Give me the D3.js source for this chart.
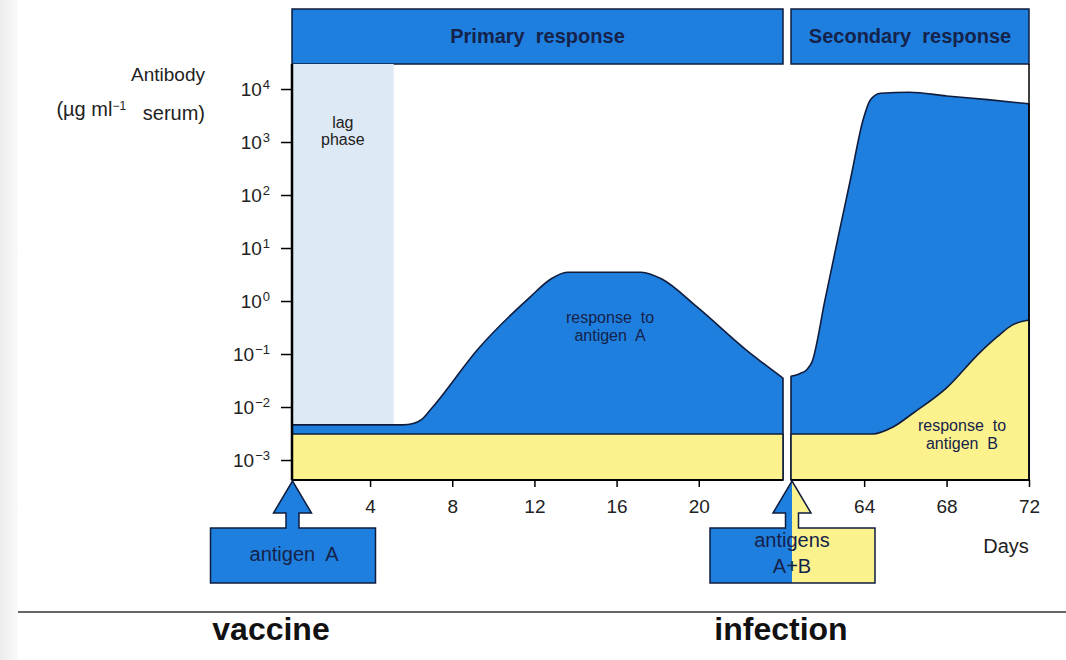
<!DOCTYPE html>
<html><head><meta charset="utf-8">
<script src="https://cdn.jsdelivr.net/npm/d3@7/dist/d3.min.js"></script>
<style>
body{margin:0;background:#fff;}
svg text{font-family:"Liberation Sans", Arial, Helvetica, sans-serif;}
</style></head><body>
<svg id="chart" width="1066" height="660"></svg>
<script>
// ---------- data (antibody, µg/ml serum) ----------
const primaryDays   = [0.2, 5.6, 6.1, 6.5, 7.0, 9.3, 11.8, 12.8, 13.6, 17.2, 18.2, 19.9, 22.3, 24.1];
const primaryA      = [0.0046, 0.0046, 0.0049, 0.0058, 0.0095, 0.13, 1.2, 2.6, 3.5, 3.5, 2.6, 0.78, 0.12, 0.035];
const primaryBDays  = [0.2, 24.1];
const primaryB      = [0.0031, 0.0031];
const secondaryDays = [60.45, 60.9, 61.2, 61.47, 62.1, 62.73, 63.36, 63.95, 64.3, 64.8, 66.2, 68, 70, 72];
const secondaryA    = [0.038, 0.043, 0.05, 0.071, 1.05, 15.5, 219, 2630, 6200, 8300, 8700, 7400, 6300, 5250];
const secondaryBDays= [60.45, 64.4, 65.4, 66.4, 68.0, 69.6, 70.45, 71.2, 72];
const secondaryB    = [0.0031, 0.0031, 0.0042, 0.0078, 0.023, 0.105, 0.21, 0.355, 0.44];
const lagPhaseEnd   = 5.15;
const yTicks        = [1e-3, 1e-2, 1e-1, 1, 10, 100, 1000, 10000];
const xTicksPrimary = [4, 8, 12, 16, 20];
const xTicksSecondary = [64, 68, 72];
const headerLabels  = ["Primary  response", "Secondary  response"];

// ---------- styles ----------
const BLUE = "#1f7fdf", YELLOW = "#fbf28e", LAG = "#dde9f5", DARK = "#0f1c3c", NAVY = "#15224a";

const svg = d3.select("#chart");
const L = 292, R = 1029, T = 64, B = 480, P1R = 783, P2L = 791;

const y  = d3.scaleLog().domain([Math.pow(10,-3.377), Math.pow(10,4.472)]).range([B, T]);
const xp = d3.scaleLinear().domain([0.2, 24.1]).range([L, P1R]);
const xs = d3.scaleLinear().domain([60.45, 72]).range([P2L, R]);

// faint grey strip at left edge
const grad = svg.append("defs").append("linearGradient").attr("id","edge");
grad.append("stop").attr("offset","0").attr("stop-color","#ececec");
grad.append("stop").attr("offset","1").attr("stop-color","#fafafa");
svg.append("rect").attr("x",0).attr("y",0).attr("width",18).attr("height",660).attr("fill","url(#edge)");

// header boxes
const hdr = [[L, P1R], [P2L, R]];
hdr.forEach((h,i)=>{
  svg.append("rect").attr("x",h[0]).attr("y",9).attr("width",h[1]-h[0]).attr("height",T-9)
    .attr("fill",BLUE).attr("stroke",DARK).attr("stroke-width",1.5);
  svg.append("text").attr("x",(h[0]+h[1])/2).attr("y",43).attr("text-anchor","middle")
    .attr("font-size","20px").attr("font-weight","bold").attr("fill",NAVY)
    .style("white-space","pre").text(headerLabels[i]);
});

// lag phase
svg.append("rect").attr("x",L).attr("y",T).attr("width",xp(lagPhaseEnd)-L).attr("height",B-T).attr("fill",LAG);
svg.append("text").attr("x",(L+xp(lagPhaseEnd))/2).attr("y",128).attr("text-anchor","middle")
  .attr("font-size","16px").attr("fill","#222").text("lag");
svg.append("text").attr("x",(L+xp(lagPhaseEnd))/2).attr("y",145).attr("text-anchor","middle")
  .attr("font-size","16px").attr("fill","#222").text("phase");

function series(days, vals){ return days.map((d,i)=>({day:d, v:vals[i]})); }
function drawArea(data, xsc, fill){
  const area = d3.area().x(d=>xsc(d.day)).y0(B).y1(d=>y(d.v)).curve(d3.curveMonotoneX);
  svg.append("path").datum(data).attr("d",area).attr("fill",fill)
    .attr("stroke",DARK).attr("stroke-width",1.6).attr("stroke-linejoin","round");
}
drawArea(series(primaryDays, primaryA), xp, BLUE);
drawArea(series(primaryBDays, primaryB), xp, YELLOW);
drawArea(series(secondaryDays, secondaryA), xs, BLUE);
drawArea(series(secondaryBDays, secondaryB), xs, YELLOW);

// frame lines
svg.append("line").attr("x1",L).attr("x2",L).attr("y1",T).attr("y2",B).attr("stroke","#000").attr("stroke-width",2.5);
svg.append("line").attr("x1",R).attr("x2",R).attr("y1",T).attr("y2",B).attr("stroke","#000").attr("stroke-width",1.5);
svg.append("line").attr("x1",L).attr("x2",P1R).attr("y1",B).attr("y2",B).attr("stroke","#000").attr("stroke-width",2);
svg.append("line").attr("x1",P2L).attr("x2",R).attr("y1",B).attr("y2",B).attr("stroke","#000").attr("stroke-width",2);

// y axis
const gy = svg.append("g").attr("transform",`translate(${L},0)`)
  .call(d3.axisLeft(y).tickValues(yTicks).tickSize(11).tickPadding(11));
gy.select(".domain").remove();
gy.selectAll(".tick line").attr("stroke","#000").attr("stroke-width",1.5);
gy.selectAll(".tick text").attr("font-size","19px").attr("fill","#222")
  .attr("font-family","'Liberation Sans', Arial, sans-serif")
  .each(function(d){
    const t = d3.select(this), e = Math.round(Math.log10(d));
    t.text(null);
    t.append("tspan").text("10");
    t.append("tspan").attr("dy","-0.5em").attr("dx","1").attr("font-size","13px").text(e<0 ? "\u2212"+(-e) : String(e));
  });

// x axes
function xAxis(sc, ticks){
  const g = svg.append("g").attr("transform",`translate(0,${B})`)
    .call(d3.axisBottom(sc).tickValues(ticks).tickSize(7).tickPadding(13));
  g.select(".domain").remove();
  g.selectAll(".tick line").attr("stroke","#000").attr("stroke-width",1.5);
  g.selectAll(".tick text").attr("font-size","19px").attr("fill","#222")
    .attr("font-family","'Liberation Sans', Arial, sans-serif");
}
xAxis(xp, xTicksPrimary);
xAxis(xs, xTicksSecondary);

// annotations
function label(x, yy, txt, size, opts={}){
  const t = svg.append("text").attr("x",x).attr("y",yy).attr("font-size",size)
    .attr("text-anchor",opts.anchor||"middle").attr("fill",opts.fill||"#222")
    .style("white-space","pre").text(txt);
  if(opts.bold) t.attr("font-weight","bold");
  return t;
}
label(610, 323, "response  to", "16px", {fill:NAVY});
label(610, 341, "antigen  A", "16px", {fill:NAVY});
label(962, 431, "response  to", "16px", {fill:NAVY});
label(962, 449, "antigen  B", "16px", {fill:NAVY});

label(205, 81, "Antibody", "19px", {anchor:"end"});
const ul = svg.append("text").attr("x",205).attr("y",116).attr("text-anchor","end")
  .attr("font-size","20px").attr("fill","#222").style("white-space","pre");
ul.append("tspan").text("(\u00b5g ml");
ul.append("tspan").attr("dy","-0.5em").attr("font-size","12px").text("\u22121");
ul.append("tspan").attr("dy","0.5em").text("   serum)");

label(1006, 553, "Days", "20px");

// arrows with boxes
function arrow(cx, split){
  const tip=481, hb=513, hh=19, sh=6.5, bt=528, bb=583, bl=cx-82, br=cx+83;
  const pts = [[bl,bb],[bl,bt],[cx-sh,bt],[cx-sh,hb],[cx-hh,hb],[cx,tip],[cx+hh,hb],[cx+sh,hb],[cx+sh,bt],[br,bt],[br,bb]];
  const d = "M"+pts.map(p=>p.join(",")).join("L")+"Z";
  if(split){
    const id = "c"+Math.round(cx);
    const defs = svg.append("defs");
    defs.append("clipPath").attr("id",id+"l").append("rect").attr("x",0).attr("y",0).attr("width",cx).attr("height",660);
    defs.append("clipPath").attr("id",id+"r").append("rect").attr("x",cx).attr("y",0).attr("width",1066-cx).attr("height",660);
    svg.append("path").attr("d",d).attr("fill",BLUE).attr("clip-path",`url(#${id}l)`);
    svg.append("path").attr("d",d).attr("fill",YELLOW).attr("clip-path",`url(#${id}r)`);
  } else {
    svg.append("path").attr("d",d).attr("fill",BLUE);
  }
  svg.append("path").attr("d",d).attr("fill","none").attr("stroke",DARK).attr("stroke-width",1.5).attr("stroke-linejoin","miter");
}
arrow(L+0.5, false);
arrow(P2L+1, true);
label(294, 561, "antigen  A", "20px", {fill:NAVY});
label(792, 547, "antigens", "20px", {fill:NAVY});
label(792, 573, "A+B", "20px", {fill:NAVY});

// bottom separator and captions
svg.append("line").attr("x1",18).attr("x2",1066).attr("y1",612).attr("y2",612).attr("stroke","#333").attr("stroke-width",1.5);
label(271, 640, "vaccine", "32px", {bold:true, fill:"#111"});
label(781, 640, "infection", "32px", {bold:true, fill:"#111"});
</script>
</body></html>
